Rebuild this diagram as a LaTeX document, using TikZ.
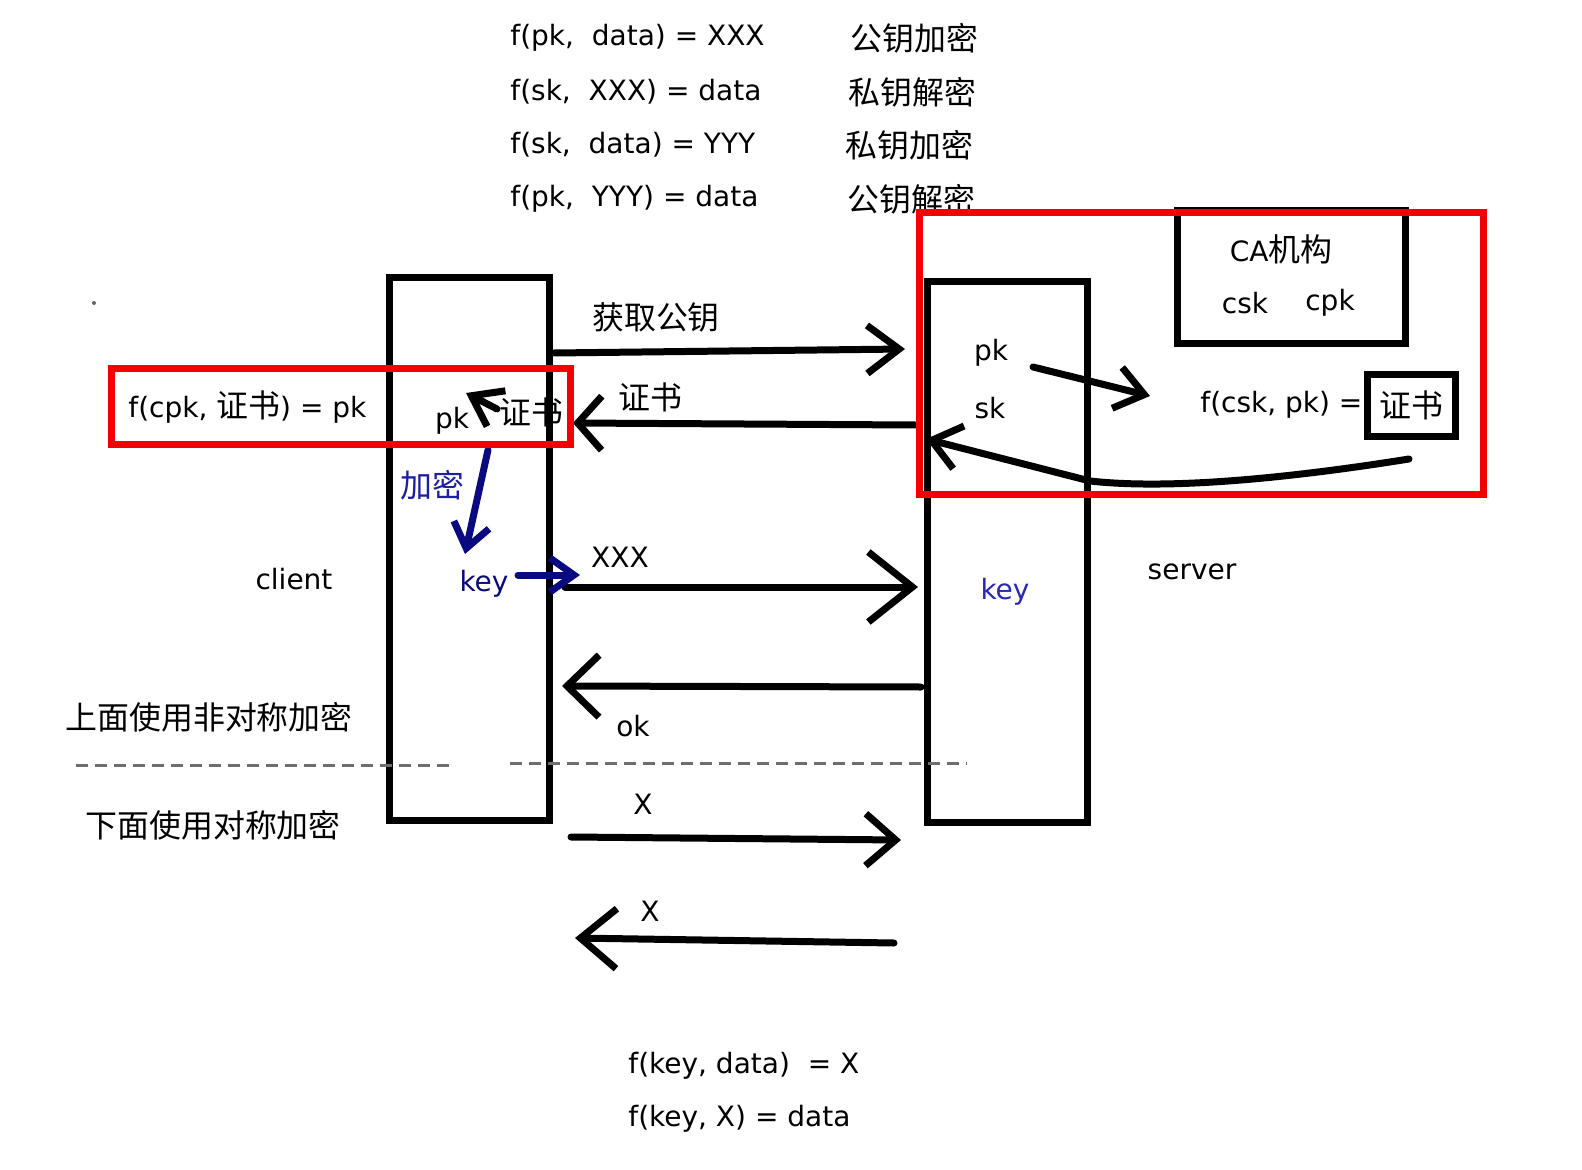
\documentclass[tikz,border=0pt]{standalone}
\usepackage{fontspec}
\setmainfont{DejaVu Sans}
\newfontfamily\cjk[Scale=1.14]{Noto Sans CJK SC}
\newcommand\zh[1]{{\cjk #1}}
\usetikzlibrary{arrows.meta}
\definecolor{redbox}{RGB}{245,0,0}
\definecolor{dashgray}{RGB}{110,110,110}
\definecolor{arrowblue}{RGB}{10,10,128}
\definecolor{textblue}{RGB}{30,30,160}
\definecolor{keyblue}{RGB}{40,40,185}
\begin{document}
\begin{tikzpicture}[x=0.5pt,y=-0.5pt,
  txt/.style={inner sep=0pt, font=\fontsize{14pt}{16pt}\selectfont},
  lane/.style={draw=black, line width=3.5pt},
  redframe/.style={draw=redbox, line width=3.5pt},
  msg/.style 2 args={line width=3.5pt, line cap=round, line join=round,
    -{Straight Barb[length=#1,width=#2,line width=3.5pt]}},
  bluemsg/.style 2 args={draw=arrowblue, line width=3.5pt, line cap=round, line join=round,
    -{Straight Barb[length=#1,width=#2,line width=3.5pt]}},
  divider/.style={draw=dashgray, line width=1.5pt, dash pattern=on 6pt off 3.5pt}
]
\useasboundingbox (0,0) rectangle (1582,1170);

% top formulas
\node[txt, anchor=west] (f1) at (510,38)  {f(pk,~~data) = XXX};
\node[txt, anchor=west] (f2) at (510,92)  {f(sk,~~XXX) = data};
\node[txt, anchor=west] (f3) at (510,145) {f(sk,~~data) = YYY};
\node[txt, anchor=west] (f4) at (510,199) {f(pk,~~YYY) = data};
\node[txt, anchor=west] (c1) at (850,38)  {\zh{公钥加密}};
\node[txt, anchor=west] (c2) at (848,92)  {\zh{私钥解密}};
\node[txt, anchor=west] (c3) at (845,145) {\zh{私钥加密}};
\node[txt, anchor=west] (c4) at (847,199) {\zh{公钥解密}};

% lanes
\draw[lane] (389,278) rectangle (549,820);
\draw[lane] (927,282) rectangle (1087,822);
\node[lane, minimum width=114pt, minimum height=66.5pt, inner sep=0pt] (ca) at (1291,277.5) {};
\node[txt] (catitle) at (1281,249) {CA\zh{机构}};
\node[txt] (csk) at (1245,303) {csk};
\node[txt] (cpk) at (1330,303) {cpk};

% side labels
\fill[black!60] (94,303) circle (1pt);
\node[txt] (client) at (294,579) {client};
\node[txt] (server) at (1192,572) {server};
\node[txt, anchor=west] (upper) at (65,717) {\zh{上面使用非对称加密}};
\node[txt, anchor=west] (lower) at (85,825) {\zh{下面使用对称加密}};
\node[txt, anchor=west] (verify) at (128,407) {f(cpk, \zh{证书}) = pk};

% dividers
\coordinate (d1a) at (76,765);  \coordinate (d1b) at (452,765);
\coordinate (d2a) at (510,763); \coordinate (d2b) at (967,763);
\draw[divider] (d1a) -- (d1b);
\draw[divider] (d2a) -- (d2b);

% message arrows
\coordinate (g1) at (554,353);  \coordinate (g2) at (905,349);
\coordinate (r1) at (915,425);  \coordinate (r2) at (573,423);
\coordinate (x1) at (565,587);  \coordinate (x2) at (918,587);
\coordinate (o1) at (921,687);  \coordinate (o2) at (562,686);
\coordinate (s1) at (571,837);  \coordinate (s2) at (901,840);
\coordinate (t1) at (894,943);  \coordinate (t2) at (575,938);
\draw[msg={16pt}{24pt}] (g1) -- (g2);
\draw[msg={12pt}{27pt}] (r1) -- (r2);
\draw[msg={22pt}{35pt}] (x1) -- (x2);
\draw[msg={16pt}{31pt}] (o1) -- (o2);
\draw[msg={15pt}{26pt}] (s1) -- (s2);
\draw[msg={18pt}{30pt}] (t1) -- (t2);

\node[txt] (getpk) at (656,317) {\zh{获取公钥}};
\node[txt] (certlbl) at (650,397) {\zh{证书}};
\node[txt] (xxx) at (620,557) {XXX};
\node[txt] (ok) at (633,726) {ok};
\node[txt] (xa) at (643,804) {X};
\node[txt] (xb) at (650,911) {X};

% server side
\node[txt] (spk) at (991,353) {pk};
\node[txt] (ssk) at (990,408) {sk};
\node[txt, text=keyblue] (skey) at (1005,592) {key};
\node[txt, anchor=west] (sign) at (1200,405) {f(csk, pk) =};
\node[lane, txt, minimum width=44pt, minimum height=30.5pt] (cert) at (1411,405.5) {\zh{证书}};
\coordinate (p1) at (1033,367); \coordinate (p2) at (1150,396);
\draw[msg={14pt}{21pt}] (p1) -- (p2);
\coordinate (q1) at (1409,459); \coordinate (q2) at (1090,481); \coordinate (q3) at (926,439);
\draw[msg={14pt}{22pt}] (q1) .. controls (1290,478) and (1170,490) .. (q2) -- (q3);

% client side
\node[txt] (cpkt) at (452,421) {pk};
\node[txt] (ccert) at (531,412) {\zh{证书}};
\coordinate (k1) at (497,409); \coordinate (k2) at (466,393);
\draw[msg={14pt}{20pt}] (k1) -- (k2);
\node[txt, text=textblue] (enc) at (432,485) {\zh{加密}};
\node[txt, text=arrowblue] (ckey) at (484,584) {key};
\coordinate (e1) at (488,450); \coordinate (e2) at (465,554);
\draw[bluemsg={12pt}{18pt}] (e1) -- (e2);
\coordinate (h1) at (518,575); \coordinate (h2) at (580,575);
\draw[bluemsg={12pt}{17pt}] (h1) -- (h2);

% red frames
\draw[redframe] (919,213) rectangle (1483,494);
\draw[redframe] (111,369) rectangle (570,444);

% bottom formulas
\node[txt, anchor=west] (b1) at (628,1066) {f(key, data)~~= X};
\node[txt, anchor=west] (b2) at (628,1119) {f(key, X) = data};
\end{tikzpicture}
\end{document}
